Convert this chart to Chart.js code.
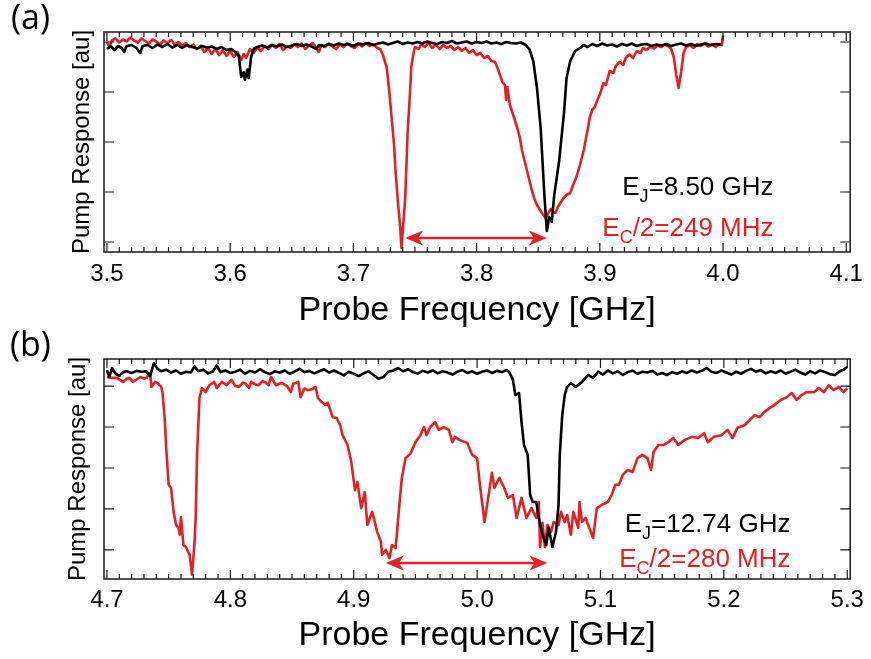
<!DOCTYPE html>
<html>
<head>
<meta charset="utf-8">
<script src="https://cdn.jsdelivr.net/npm/chart.js@4.4.1/dist/chart.umd.min.js"></script>
<style>
  html, body { margin: 0; padding: 0; background: #fff; }
  #wrap { position: relative; width: 871px; height: 659px; }
  #wrap canvas { position: absolute; left: 0; }
</style>
</head>
<body>
<div id="wrap">
  <canvas id="chartA" width="871" height="330" style="top:0"></canvas>
  <canvas id="chartB" width="871" height="329" style="top:330px"></canvas>
</div>
<script>
const BLACK = '#000000';
const RED = '#e41f26';

const xTicksA = [3.5, 3.6, 3.7, 3.8, 3.9, 4.0, 4.1];
const xTicksB = [4.7, 4.8, 4.9, 5.0, 5.1, 5.2, 5.3];
const yTicks = [0, 1, 2, 3, 4];

// panel (a): [frequency GHz, response au]
const blackA = [
  [3.500,3.86],[3.503,3.92],[3.506,3.84],[3.509,3.92],[3.512,3.88],[3.514,3.80],[3.516,3.92],[3.520,3.94],
  [3.524,3.88],[3.527,3.78],[3.529,3.92],[3.533,3.94],[3.537,3.88],[3.541,3.95],[3.545,3.90],[3.549,3.96],
  [3.553,3.89],[3.557,3.94],[3.561,3.88],[3.565,3.94],[3.569,3.90],[3.573,3.87],[3.577,3.92],[3.581,3.89],
  [3.585,3.91],[3.589,3.86],[3.593,3.90],[3.597,3.84],[3.601,3.86],[3.604,3.80],[3.607,3.72],[3.609,3.30],
  [3.611,3.40],[3.612,3.24],[3.614,3.45],[3.615,3.28],[3.617,3.70],[3.619,3.86],[3.622,3.90],[3.626,3.93],
  [3.630,3.89],[3.634,3.94],[3.638,3.91],[3.642,3.95],[3.646,3.90],[3.650,3.93],[3.654,3.96],[3.658,3.92],
  [3.662,3.95],[3.666,3.91],[3.670,3.86],[3.672,3.94],[3.676,3.92],[3.680,3.96],[3.684,3.93],[3.688,3.97],
  [3.692,3.94],[3.696,3.96],[3.700,3.92],[3.704,3.97],[3.708,3.95],[3.712,3.98],[3.716,3.94],[3.720,3.97],
  [3.724,3.99],[3.728,3.95],[3.732,3.98],[3.736,4.01],[3.740,3.96],[3.744,3.99],[3.748,3.97],[3.752,4.00],
  [3.756,3.97],[3.760,4.01],[3.764,3.98],[3.768,3.96],[3.772,4.00],[3.776,3.98],[3.780,4.02],[3.784,3.97],
  [3.788,3.99],[3.792,4.01],[3.796,3.97],[3.800,4.00],[3.804,3.98],[3.808,4.01],[3.812,3.97],[3.816,3.99],
  [3.820,3.96],[3.824,4.00],[3.828,3.98],[3.832,3.97],[3.836,3.99],[3.840,3.94],[3.843,3.85],[3.846,3.62],
  [3.849,3.08],[3.852,2.28],[3.855,0.94],[3.857,0.22],[3.859,0.50],[3.861,0.40],[3.863,0.94],[3.867,1.62],
  [3.871,2.60],[3.873,3.28],[3.876,3.62],[3.880,3.82],[3.884,3.88],[3.887,3.94],[3.890,3.90],[3.894,3.96],
  [3.898,3.92],[3.902,3.97],[3.906,3.93],[3.910,3.95],[3.914,3.91],[3.918,3.96],[3.922,3.93],[3.926,3.97],
  [3.930,3.92],[3.934,3.95],[3.938,3.96],[3.942,3.92],[3.946,3.95],[3.950,3.93],[3.954,3.96],[3.958,3.92],
  [3.962,3.95],[3.966,3.97],[3.970,3.93],[3.974,3.96],[3.978,3.92],[3.982,3.95],[3.986,3.97],[3.990,3.94],
  [3.994,3.96],[3.998,3.95]
];
const redA = [
  [3.500,4.00],[3.502,3.90],[3.504,4.03],[3.507,4.07],[3.510,3.99],[3.513,4.05],[3.516,4.01],[3.519,4.09],
  [3.522,4.03],[3.525,3.99],[3.528,4.07],[3.531,4.02],[3.534,3.97],[3.537,4.05],[3.540,4.01],[3.543,3.95],
  [3.546,4.03],[3.549,3.98],[3.552,4.04],[3.555,3.95],[3.558,4.00],[3.561,3.92],[3.564,3.98],[3.567,3.90],
  [3.570,3.95],[3.573,3.86],[3.576,3.92],[3.579,3.80],[3.582,3.88],[3.585,3.76],[3.588,3.86],[3.591,3.74],
  [3.594,3.84],[3.597,3.72],[3.600,3.82],[3.603,3.70],[3.606,3.80],[3.609,3.64],[3.611,3.76],[3.613,3.68],
  [3.616,3.86],[3.619,3.78],[3.622,3.90],[3.625,3.82],[3.628,3.92],[3.631,3.86],[3.634,3.94],[3.637,3.88],
  [3.640,3.96],[3.643,3.84],[3.646,3.92],[3.649,3.88],[3.652,3.95],[3.655,3.90],[3.658,3.97],[3.661,3.86],
  [3.664,3.93],[3.667,3.98],[3.670,3.88],[3.672,3.80],[3.674,3.94],[3.677,3.90],[3.680,3.97],[3.683,3.91],
  [3.686,3.86],[3.689,3.95],[3.692,3.90],[3.695,3.97],[3.698,3.92],[3.701,3.88],[3.704,3.96],[3.707,3.91],
  [3.710,3.98],[3.713,3.92],[3.716,3.95],[3.719,3.89],[3.722,3.85],[3.724,3.74],[3.727,3.50],[3.729,3.05],
  [3.731,2.50],[3.733,1.95],[3.734,1.50],[3.736,0.84],[3.738,0.30],[3.739,-0.12],[3.740,0.20],[3.742,0.84],
  [3.743,1.50],[3.744,2.18],[3.746,3.00],[3.747,3.50],[3.749,3.80],[3.750,3.90],[3.753,3.86],[3.755,3.96],
  [3.758,3.90],[3.761,3.98],[3.764,3.88],[3.767,3.95],[3.770,3.86],[3.773,3.94],[3.776,3.88],[3.779,3.92],
  [3.782,3.84],[3.785,3.90],[3.788,3.82],[3.791,3.88],[3.794,3.78],[3.797,3.84],[3.800,3.74],[3.803,3.78],
  [3.806,3.68],[3.809,3.72],[3.812,3.62],[3.815,3.60],[3.817,3.48],[3.819,3.34],[3.821,3.20],[3.823,3.14],
  [3.824,2.84],[3.825,3.10],[3.827,2.74],[3.830,2.52],[3.833,2.28],[3.835,2.10],[3.837,1.82],[3.839,1.62],
  [3.841,1.42],[3.843,1.22],[3.845,1.02],[3.847,0.86],[3.849,0.74],[3.851,0.66],[3.853,0.58],[3.855,0.52],
  [3.856,0.48],[3.858,0.56],[3.860,0.66],[3.862,0.60],[3.864,0.58],[3.866,0.70],[3.868,0.78],[3.870,0.86],
  [3.873,0.94],[3.876,0.98],[3.878,1.12],[3.881,1.30],[3.884,1.55],[3.887,1.84],[3.889,2.10],[3.892,2.50],
  [3.894,2.65],[3.896,2.70],[3.898,2.84],[3.900,2.95],[3.903,3.18],[3.905,3.14],[3.908,3.42],[3.911,3.38],
  [3.913,3.52],[3.916,3.60],[3.919,3.54],[3.921,3.68],[3.924,3.75],[3.927,3.68],[3.930,3.82],[3.933,3.78],
  [3.935,3.88],[3.938,3.84],[3.941,3.91],[3.944,3.87],[3.947,3.93],[3.950,3.90],[3.953,3.95],[3.956,3.91],
  [3.958,3.86],[3.960,3.70],[3.962,3.35],[3.964,3.08],[3.966,3.40],[3.968,3.78],[3.970,3.90],[3.973,3.94],
  [3.976,3.88],[3.979,3.96],[3.982,3.92],[3.985,3.97],[3.988,3.91],[3.991,3.95],[3.994,3.90],[3.997,3.96],
  [3.999,3.94],[4.000,4.14]
];

// panel (b)
const blackB = [
  [4.700,4.39],[4.702,4.22],[4.704,4.44],[4.707,4.30],[4.710,4.25],[4.713,4.34],[4.716,4.36],[4.720,4.32],
  [4.724,4.37],[4.728,4.35],[4.732,4.36],[4.735,4.24],[4.738,4.56],[4.741,4.42],[4.744,4.36],[4.748,4.40],
  [4.752,4.33],[4.756,4.38],[4.760,4.30],[4.764,4.35],[4.768,4.33],[4.771,4.48],[4.774,4.36],[4.778,4.40],
  [4.782,4.31],[4.786,4.36],[4.789,4.50],[4.792,4.34],[4.796,4.38],[4.800,4.32],[4.804,4.35],[4.808,4.40],
  [4.812,4.30],[4.816,4.37],[4.820,4.33],[4.824,4.41],[4.828,4.34],[4.832,4.29],[4.836,4.36],[4.840,4.33],
  [4.844,4.38],[4.848,4.30],[4.852,4.35],[4.856,4.42],[4.860,4.34],[4.864,4.37],[4.868,4.31],[4.872,4.36],
  [4.876,4.41],[4.880,4.33],[4.884,4.38],[4.888,4.32],[4.892,4.26],[4.896,4.35],[4.900,4.30],[4.904,4.24],
  [4.908,4.31],[4.912,4.36],[4.916,4.27],[4.920,4.18],[4.924,4.22],[4.928,4.35],[4.932,4.38],[4.936,4.44],
  [4.940,4.36],[4.944,4.41],[4.948,4.34],[4.952,4.30],[4.956,4.37],[4.960,4.33],[4.964,4.38],[4.968,4.31],
  [4.972,4.36],[4.976,4.33],[4.980,4.28],[4.984,4.35],[4.988,4.39],[4.992,4.32],[4.996,4.36],[5.000,4.30],
  [5.004,4.35],[5.008,4.38],[5.012,4.32],[5.016,4.37],[5.020,4.34],[5.024,4.39],[5.026,4.34],[5.029,4.15],
  [5.031,3.78],[5.034,3.83],[5.036,3.12],[5.038,2.56],[5.041,2.32],[5.043,1.34],[5.045,1.17],[5.048,1.17],
  [5.050,0.78],[5.053,0.37],[5.056,0.12],[5.058,0.54],[5.061,0.07],[5.064,0.44],[5.066,1.10],[5.067,2.32],
  [5.069,3.29],[5.071,3.78],[5.073,3.98],[5.076,4.07],[5.080,3.98],[5.085,4.10],[5.090,4.27],[5.094,4.20],
  [5.098,4.35],[5.102,4.28],[5.106,4.38],[5.110,4.31],[5.114,4.36],[5.118,4.27],[5.122,4.34],[5.126,4.38],
  [5.130,4.30],[5.134,4.35],[5.138,4.33],[5.142,4.37],[5.146,4.28],[5.150,4.32],[5.154,4.27],[5.158,4.34],
  [5.162,4.30],[5.166,4.36],[5.170,4.32],[5.174,4.38],[5.178,4.33],[5.182,4.37],[5.186,4.44],[5.190,4.35],
  [5.194,4.32],[5.198,4.38],[5.202,4.33],[5.206,4.28],[5.210,4.35],[5.214,4.30],[5.218,4.37],[5.222,4.42],
  [5.226,4.35],[5.230,4.39],[5.234,4.31],[5.238,4.36],[5.242,4.32],[5.246,4.38],[5.250,4.30],[5.254,4.35],
  [5.258,4.40],[5.262,4.33],[5.266,4.28],[5.270,4.36],[5.274,4.31],[5.278,4.38],[5.282,4.34],[5.286,4.29],
  [5.290,4.27],[5.294,4.36],[5.297,4.40],[5.300,4.46]
];
const redB = [
  [4.700,4.22],[4.704,4.20],[4.708,4.20],[4.711,4.14],[4.713,4.10],[4.716,4.18],[4.718,4.20],[4.721,4.10],
  [4.724,4.16],[4.727,4.22],[4.730,4.18],[4.732,4.20],[4.735,4.32],[4.736,3.98],[4.739,4.10],[4.741,4.07],
  [4.744,3.98],[4.745,3.85],[4.747,3.12],[4.748,2.49],[4.750,1.59],[4.752,1.51],[4.754,0.93],[4.756,0.61],
  [4.758,0.54],[4.759,0.37],[4.760,0.80],[4.762,0.12],[4.764,0.07],[4.767,-0.12],[4.769,-0.61],[4.771,0.20],
  [4.772,0.85],[4.773,2.32],[4.775,3.71],[4.777,3.95],[4.780,3.85],[4.783,4.02],[4.787,4.10],[4.789,3.95],
  [4.793,4.10],[4.797,4.02],[4.801,4.15],[4.804,4.00],[4.807,3.98],[4.810,4.08],[4.812,4.07],[4.815,3.96],
  [4.817,4.10],[4.820,4.04],[4.823,4.02],[4.826,4.12],[4.828,4.10],[4.831,4.02],[4.833,4.22],[4.837,4.02],
  [4.840,4.06],[4.842,4.07],[4.846,4.00],[4.849,3.85],[4.851,4.06],[4.853,4.07],[4.855,4.10],[4.857,3.73],
  [4.860,3.94],[4.863,3.90],[4.866,3.92],[4.869,3.98],[4.871,3.71],[4.874,3.61],[4.877,3.54],[4.879,3.59],
  [4.883,3.24],[4.886,3.22],[4.889,3.05],[4.891,2.80],[4.895,2.56],[4.898,2.15],[4.901,1.46],[4.903,1.66],
  [4.906,1.02],[4.909,1.41],[4.911,0.61],[4.915,0.93],[4.919,0.44],[4.922,0.20],[4.923,-0.12],[4.926,0.00],
  [4.929,-0.20],[4.931,0.12],[4.934,0.05],[4.937,1.10],[4.939,1.76],[4.942,2.24],[4.946,2.35],[4.950,2.63],
  [4.954,2.80],[4.957,3.00],[4.959,2.80],[4.962,3.00],[4.966,3.12],[4.969,2.93],[4.973,3.00],[4.977,2.93],
  [4.980,2.63],[4.982,2.76],[4.986,2.68],[4.992,2.61],[4.996,2.32],[5.000,2.24],[5.002,1.66],[5.004,1.17],
  [5.006,0.68],[5.009,1.27],[5.012,1.88],[5.014,1.51],[5.018,1.76],[5.022,1.51],[5.025,1.27],[5.029,1.34],
  [5.032,0.78],[5.036,1.27],[5.040,0.78],[5.044,1.02],[5.048,0.78],[5.050,1.17],[5.051,0.07],[5.053,0.66],
  [5.055,0.07],[5.057,0.61],[5.060,0.44],[5.062,0.68],[5.066,0.61],[5.068,0.93],[5.071,0.68],[5.073,0.85],
  [5.076,0.37],[5.078,0.93],[5.082,0.54],[5.083,1.17],[5.085,0.68],[5.088,0.78],[5.090,0.61],[5.094,0.29],
  [5.097,1.02],[5.101,1.10],[5.106,1.17],[5.109,1.34],[5.112,1.59],[5.115,1.59],[5.118,1.83],[5.122,1.95],
  [5.126,1.90],[5.130,2.24],[5.134,2.32],[5.138,2.24],[5.141,1.95],[5.143,2.39],[5.147,2.56],[5.151,2.56],
  [5.155,2.63],[5.159,2.73],[5.163,2.56],[5.168,2.68],[5.174,2.76],[5.179,2.73],[5.184,2.85],[5.187,2.63],
  [5.192,2.76],[5.198,2.80],[5.203,2.93],[5.207,2.73],[5.211,2.98],[5.217,3.05],[5.221,3.17],[5.225,3.29],
  [5.229,3.24],[5.233,3.37],[5.237,3.46],[5.241,3.54],[5.246,3.66],[5.250,3.71],[5.253,3.78],[5.255,3.83],
  [5.259,3.66],[5.263,3.78],[5.267,3.85],[5.273,3.85],[5.277,3.95],[5.281,3.85],[5.285,4.02],[5.289,3.90],
  [5.293,3.98],[5.297,3.85],[5.300,3.95]
];

// transition frequencies marked by the double arrows
const arrowA = [3.742, 3.857];
const arrowB = [4.926, 5.057];

const labelsA = [['E', 'J', '=8.50 GHz'], ['E', 'C', '/2=249 MHz']];
const labelsB = [['E', 'J', '=12.74 GHz'], ['E', 'C', '/2=280 MHz']];

const FONT = '"Liberation Sans", Arial, sans-serif';
Chart.defaults.font.family = FONT;
Chart.defaults.color = '#000';

function drawParts(ctx, right, base, parts, color) {
  const big = '26px ' + FONT, small = '18px ' + FONT;
  ctx.font = big;
  const w0 = ctx.measureText(parts[0]).width;
  const w2 = ctx.measureText(parts[2]).width;
  ctx.font = small;
  const w1 = ctx.measureText(parts[1]).width;
  let x = right - (w0 + w1 + w2);
  ctx.fillStyle = color;
  ctx.textAlign = 'left';
  ctx.textBaseline = 'alphabetic';
  ctx.font = big; ctx.fillText(parts[0], x, base); x += w0;
  ctx.font = small; ctx.fillText(parts[1], x, base + 7); x += w1;
  ctx.font = big; ctx.fillText(parts[2], x, base);
}

function arrowHead(ctx, tipX, y, dir) {
  // dir = -1 points left, +1 points right
  const L = 18, H = 7.5, N = 5;
  ctx.beginPath();
  ctx.moveTo(tipX, y);
  ctx.lineTo(tipX - dir * L, y - H);
  ctx.lineTo(tipX - dir * (L - N), y);
  ctx.lineTo(tipX - dir * L, y + H);
  ctx.closePath();
  ctx.fill();
}

const decor = {
  id: 'decor',
  afterDatasetsDraw(chart, args, o) {
    const {ctx, chartArea: a} = chart;
    const xs = chart.scales.x, ys = chart.scales.y;
    ctx.save();

    // frame and inward ticks
    ctx.strokeStyle = '#1a1a1a';
    ctx.lineWidth = 1.5;
    ctx.strokeRect(a.left, a.top, a.right - a.left, a.bottom - a.top);
    ctx.lineWidth = 1.2;
    ctx.beginPath();
    o.xTicks.forEach((v, i) => {
      const px = xs.getPixelForValue(v);
      ctx.moveTo(px, a.bottom); ctx.lineTo(px, a.bottom - 9);
      ctx.moveTo(px, a.top); ctx.lineTo(px, a.top + 9);
      if (i < o.xTicks.length - 1) {
        const step = (o.xTicks[i + 1] - v) / 10;
        for (let k = 1; k < 10; k++) {
          const mx = xs.getPixelForValue(v + step * k);
          ctx.moveTo(mx, a.bottom); ctx.lineTo(mx, a.bottom - 5);
          ctx.moveTo(mx, a.top); ctx.lineTo(mx, a.top + 5);
        }
      }
    });
    o.yTicks.forEach(v => {
      const py = ys.getPixelForValue(v);
      ctx.moveTo(a.left, py); ctx.lineTo(a.left + 10, py);
      ctx.moveTo(a.right, py); ctx.lineTo(a.right - 10, py);
    });
    ctx.stroke();

    // double arrow
    const ay = ys.getPixelForValue(o.arrowY);
    const ax1 = xs.getPixelForValue(o.arrow[0]);
    const ax2 = xs.getPixelForValue(o.arrow[1]);
    ctx.strokeStyle = RED;
    ctx.fillStyle = RED;
    ctx.lineWidth = 2.5;
    ctx.beginPath();
    ctx.moveTo(ax1 + 10, ay);
    ctx.lineTo(ax2 - 10, ay);
    ctx.stroke();
    arrowHead(ctx, ax1, ay, -1);
    arrowHead(ctx, ax2, ay, 1);

    // parameter labels
    const rx = xs.getPixelForValue(o.textX);
    drawParts(ctx, rx, ys.getPixelForValue(o.textY[0]), o.labels[0], BLACK);
    drawParts(ctx, rx, ys.getPixelForValue(o.textY[1]), o.labels[1], RED);

    // panel tag
    ctx.fillStyle = '#000';
    ctx.font = '34px "Open Sans", sans-serif';
    ctx.textAlign = 'left';
    ctx.textBaseline = 'alphabetic';
    ctx.fillText(o.tag, o.tagX, o.tagY);
    ctx.restore();
  }
};

function makeChart(id, black, red, p) {
  return new Chart(document.getElementById(id), {
    type: 'line',
    data: {
      datasets: [
        {data: black.map(d => ({x: d[0], y: d[1]})), borderColor: BLACK, borderWidth: p.lw},
        {data: red.map(d => ({x: d[0], y: d[1]})), borderColor: RED, borderWidth: p.lw}
      ]
    },
    options: {
      responsive: false,
      animation: false,
      events: [],
      layout: {padding: {left: 0, right: 16, top: p.top, bottom: 0}},
      elements: {point: {radius: 0}, line: {tension: 0, borderJoinStyle: 'round', fill: false}},
      plugins: {
        legend: {display: false},
        tooltip: {enabled: false},
        decor: p.decor
      },
      scales: {
        x: {
          type: 'linear',
          min: p.xMin, max: p.xMax,
          afterFit: s => { s.height = p.xh; },
          afterBuildTicks: s => { s.ticks = p.decor.xTicks.map(v => ({value: v})); },
          grid: {display: false, drawTicks: false},
          border: {display: false},
          ticks: {font: {size: 24}, color: '#000', padding: p.tickPad, maxRotation: 0, autoSkip: false,
                  callback: v => Number(v).toFixed(1)},
          title: {display: true, text: 'Probe Frequency [GHz]', color: '#000',
                  font: {size: 34, lineHeight: 1}, padding: {top: 0, bottom: p.xTitlePad}}
        },
        y: {
          type: 'linear',
          min: p.yMin, max: p.yMax,
          afterFit: s => { s.width = 104; },
          grid: {display: false, drawTicks: false},
          border: {display: false},
          ticks: {display: false},
          title: {display: true, text: 'Pump Response [au]', color: '#000',
                  font: {size: 24, lineHeight: 1}, padding: {top: p.yTitlePad, bottom: 0}}
        }
      }
    },
    plugins: [decor]
  });
}

makeChart('chartA', blackA, redA, {
  lw: 2.6, top: 32, xh: 78, tickPad: 8, xTitlePad: 2, yTitlePad: 70,
  xMin: 3.4976, xMax: 4.1032, yMin: -0.2, yMax: 4.2,
  decor: {xTicks: xTicksA, yTicks: yTicks, arrow: arrowA, arrowY: 0.08,
          labels: labelsA, textX: 4.041, textY: [0.94, 0.12], tag: '(a)', tagX: 11, tagY: 29}
});

makeChart('chartB', blackB, redB, {
  lw: 2.6, top: 29, xh: 80, tickPad: 7, xTitlePad: 6, yTitlePad: 66,
  xMin: 4.6976, xMax: 5.3024, yMin: -0.71, yMax: 4.66,
  decor: {xTicks: xTicksB, yTicks: yTicks, arrow: arrowB, arrowY: -0.32,
          labels: labelsB, textX: 5.254, textY: [0.44, -0.41], tag: '(b)', tagX: 10, tagY: 26}
});
</script>
</body>
</html>
